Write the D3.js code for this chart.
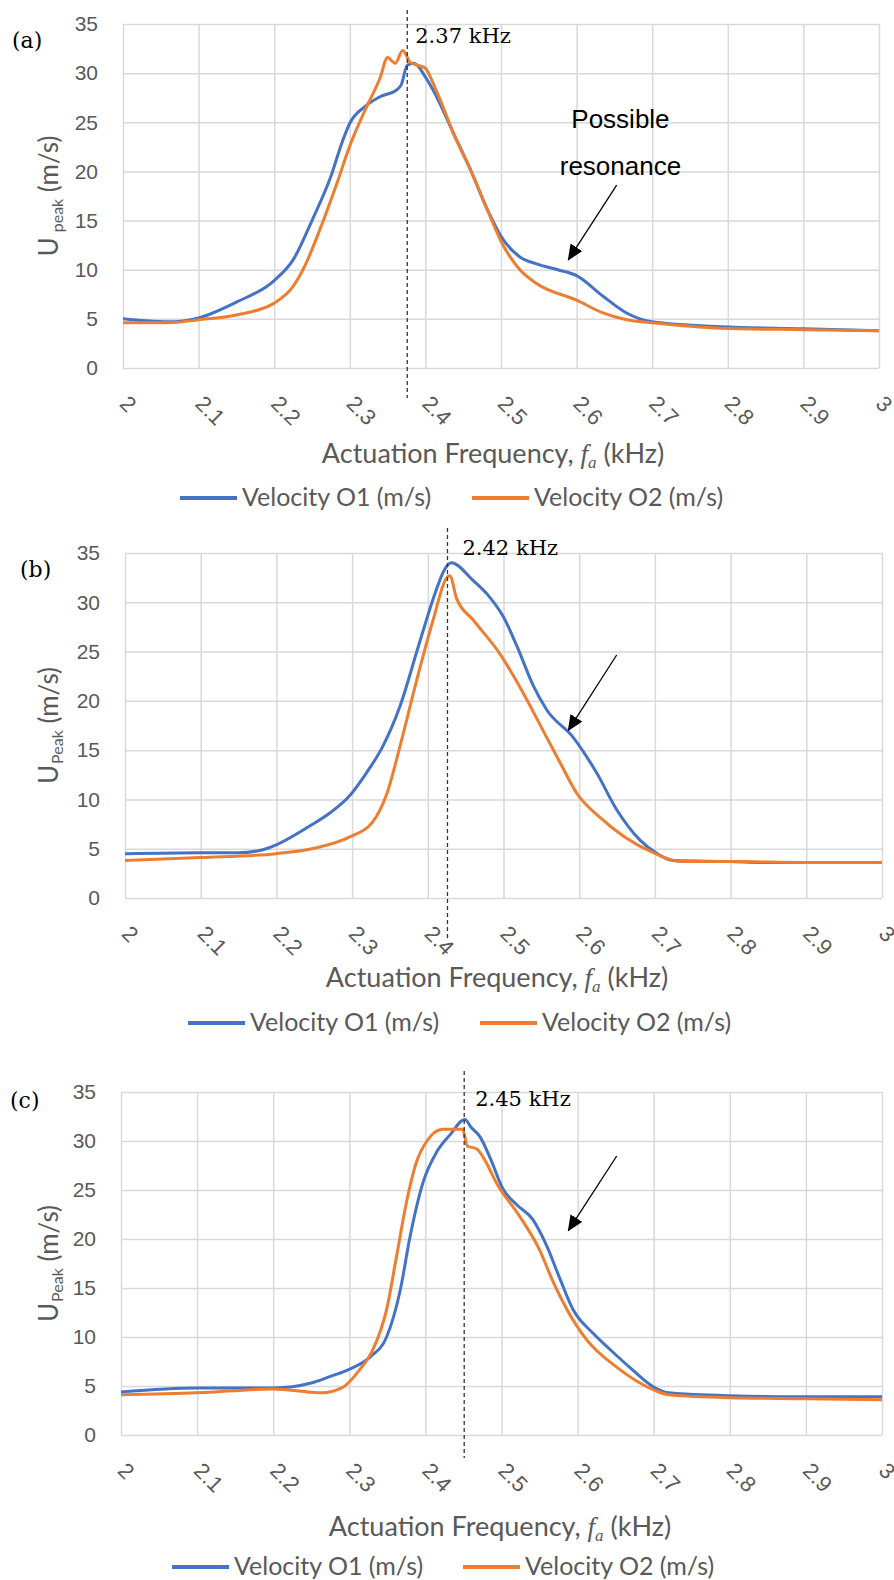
<!DOCTYPE html>
<html>
<head>
<meta charset="utf-8">
<script src="https://cdn.jsdelivr.net/npm/d3@7"></script>
<style>
  body { margin: 0; background: #fff; }
  svg { display: block; font-family: Lato, sans-serif; }
</style>
</head>
<body>
<svg id="fig" width="894" height="1580"></svg>
<script>
// axis ticks
var xTicks = [2, 2.1, 2.2, 2.3, 2.4, 2.5, 2.6, 2.7, 2.8, 2.9, 3];
var yTicks = [0, 5, 10, 15, 20, 25, 30, 35];
var seriesNames = ["Velocity O1 (m/s)", "Velocity O2 (m/s)"];
// where the dashed resonance lines sit, and their labels
var peakFreqs = [2.376, 2.426, 2.451];
var peakLabels = ["2.37 kHz", "2.42 kHz", "2.45 kHz"];

// (a) velocity at outlet 1 / outlet 2
var freqA1 = [2.00, 2.03, 2.06, 2.10, 2.15, 2.20, 2.225, 2.25, 2.275, 2.29, 2.30, 2.32, 2.34, 2.362, 2.368, 2.376, 2.385, 2.40, 2.41, 2.437, 2.46, 2.482, 2.50, 2.525, 2.547, 2.575, 2.60, 2.635, 2.666, 2.70, 2.79, 2.90, 3.00];
var velA1  = [5.0, 4.8, 4.7, 5.1, 6.7, 8.9, 11.0, 15.0, 19.5, 23.0, 24.9, 26.6, 27.6, 28.3, 28.8, 30.8, 31.0, 29.6, 28.3, 23.9, 20.1, 16.1, 13.4, 11.3, 10.6, 10.0, 9.4, 7.3, 5.6, 4.7, 4.2, 4.0, 3.8];
var freqA2 = [2.00, 2.06, 2.10, 2.15, 2.20, 2.225, 2.24, 2.26, 2.283, 2.30, 2.32, 2.34, 2.35, 2.36, 2.37, 2.38, 2.39, 2.40, 2.41, 2.42, 2.437, 2.46, 2.482, 2.50, 2.525, 2.547, 2.60, 2.635, 2.666, 2.70, 2.79, 2.90, 3.00];
var velA2  = [4.6, 4.6, 4.9, 5.4, 6.6, 8.3, 10.3, 14.0, 18.8, 22.6, 26.2, 29.5, 31.6, 31.0, 32.3, 31.1, 30.8, 30.5, 29.0, 27.2, 23.9, 20.1, 16.1, 12.9, 10.0, 8.6, 6.9, 5.6, 4.9, 4.6, 4.05, 3.9, 3.8];

// (b)
var freqB1 = [2.00, 2.10, 2.15, 2.182, 2.20, 2.246, 2.272, 2.297, 2.319, 2.34, 2.363, 2.389, 2.41, 2.422, 2.431, 2.46, 2.482, 2.50, 2.518, 2.539, 2.557, 2.592, 2.623, 2.65, 2.68, 2.703, 2.724, 2.80, 2.85, 3.00];
var velB1  = [4.5, 4.6, 4.6, 4.9, 5.4, 7.4, 8.7, 10.4, 12.7, 15.3, 19.4, 25.9, 31.0, 33.3, 34.0, 32.2, 30.5, 28.5, 25.5, 21.6, 19.1, 16.3, 12.7, 8.9, 5.9, 4.5, 3.8, 3.7, 3.6, 3.6];
var freqB2 = [2.00, 2.10, 2.20, 2.253, 2.297, 2.327, 2.346, 2.363, 2.385, 2.407, 2.425, 2.429, 2.438, 2.46, 2.495, 2.526, 2.557, 2.575, 2.597, 2.627, 2.66, 2.698, 2.733, 2.80, 2.90, 3.00];
var velB2  = [3.8, 4.1, 4.5, 5.1, 6.2, 7.7, 10.6, 15.3, 22.0, 28.2, 32.5, 32.7, 30.4, 28.2, 24.8, 20.8, 16.3, 13.7, 10.6, 8.2, 6.2, 4.6, 3.7, 3.7, 3.6, 3.6];

// (c)
var freqC1 = [2.00, 2.10, 2.20, 2.25, 2.276, 2.30, 2.328, 2.349, 2.367, 2.38, 2.397, 2.415, 2.432, 2.452, 2.46, 2.472, 2.486, 2.502, 2.52, 2.541, 2.56, 2.577, 2.594, 2.62, 2.643, 2.67, 2.70, 2.72, 2.80, 2.90, 3.00];
var velC1  = [4.4, 4.8, 4.8, 5.3, 6.0, 6.7, 8.0, 10.0, 14.8, 20.3, 25.8, 28.9, 30.6, 32.2, 31.4, 30.4, 28.1, 25.1, 23.5, 22.0, 19.2, 15.9, 12.8, 10.4, 8.7, 6.8, 4.9, 4.3, 4.0, 3.9, 3.9];
var freqC2 = [2.00, 2.10, 2.20, 2.245, 2.264, 2.29, 2.313, 2.331, 2.349, 2.362, 2.375, 2.388, 2.402, 2.423, 2.449, 2.455, 2.467, 2.498, 2.524, 2.55, 2.568, 2.586, 2.612, 2.65, 2.70, 2.72, 2.80, 2.90, 3.00];
var velC2  = [4.1, 4.3, 4.7, 4.4, 4.3, 4.8, 6.6, 8.7, 12.8, 18.2, 23.7, 27.8, 30.0, 31.2, 31.2, 29.5, 29.2, 25.1, 22.3, 18.9, 15.6, 12.8, 9.7, 7.0, 4.6, 4.1, 3.8, 3.7, 3.6];

// layout of the three stacked panels
var panels = [
  { tag: "(a)", sub: "peak", subGap: true, left: 123, right: 879, top: 24, bottom: 368,
    s1: [freqA1, velA1], s2: [freqA2, velA2], k: 0,
    dash: [10, 398], peakDx: 8, peakY: 43, tagX: 12, tagY: 48,
    titleX: 493, titleY: 463, legY: 498, legX: [180, 472],
    note: true, arrow: [[2.653, 18.6], [2.589, 11.0]] },
  { tag: "(b)", sub: "Peak", subGap: false, left: 125, right: 882, top: 553, bottom: 898,
    s1: [freqB1, velB1], s2: [freqB2, velB2], k: 1,
    dash: [528, 941], peakDx: 15, peakY: 555, tagX: 20, tagY: 577,
    titleX: 497, titleY: 987, legY: 1023, legX: [188, 480],
    note: false, arrow: [[2.6495, 24.65], [2.5856, 17.0]] },
  { tag: "(c)", sub: "Peak", subGap: false, left: 121, right: 882, top: 1092, bottom: 1435,
    s1: [freqC1, velC1], s2: [freqC2, velC2], k: 2,
    dash: [1071, 1458], peakDx: 11, peakY: 1106, tagX: 10, tagY: 1108,
    titleX: 500, titleY: 1536, legY: 1567, legX: [172, 463],
    note: false, arrow: [[2.6514, 28.47], [2.5878, 20.85]] }
];

var colors = ["#4472C4", "#ED7D31"];
var svg = d3.select("#fig");

// arrow head
svg.append("defs").append("marker")
  .attr("id", "head")
  .attr("markerUnits", "userSpaceOnUse")
  .attr("markerWidth", 16).attr("markerHeight", 14)
  .attr("refX", 15).attr("refY", 7)
  .attr("orient", "auto")
  .append("path").attr("d", "M0,0L16,7L0,14Z").attr("fill", "#000");

panels.forEach(function(p) {
  var x = d3.scaleLinear().domain([2, 3]).range([p.left, p.right]);
  var y = d3.scaleLinear().domain([0, 35]).range([p.bottom, p.top]);
  var g = svg.append("g");

  // horizontal grid + y labels
  var ya = g.append("g").attr("transform", "translate(" + p.left + ",0)")
    .call(d3.axisLeft(y).tickValues(yTicks).tickSize(-(p.right - p.left)).tickPadding(25));
  // vertical grid + rotated x labels
  var xa = g.append("g").attr("transform", "translate(0," + p.bottom + ")")
    .call(d3.axisBottom(x).tickValues(xTicks).tickSize(-(p.bottom - p.top)).tickFormat(d3.format("~g")));

  [ya, xa].forEach(function(a) {
    a.select(".domain").remove();
    a.selectAll(".tick line").attr("stroke", "#d9d9d9").attr("stroke-width", 1.5);
    a.selectAll(".tick text").attr("fill", "#595959").style("font-size", "21px");
  });
  xa.selectAll(".tick text")
    .style("font-size", "22px")
    .attr("y", 0).attr("dy", null)
    .attr("text-anchor", "start")
    .attr("transform", "translate(-5,37) rotate(45)");

  // curves
  var line = d3.line()
    .x(function(d) { return x(d[0]); })
    .y(function(d) { return y(d[1]); })
    .curve(d3.curveMonotoneX);
  [p.s1, p.s2].forEach(function(s, i) {
    var pts = s[0].map(function(f, k) { return [f, s[1][k]]; });
    g.append("path").datum(pts)
      .attr("d", line)
      .attr("fill", "none")
      .attr("stroke", colors[i])
      .attr("stroke-width", 3)
      .attr("stroke-linejoin", "round");
  });

  // dashed marker at resonance
  var px = x(peakFreqs[p.k]);
  g.append("line")
    .attr("x1", px).attr("x2", px)
    .attr("y1", p.dash[0]).attr("y2", p.dash[1])
    .attr("stroke", "#333").attr("stroke-width", 1.3)
    .attr("stroke-dasharray", "4,3");
  g.append("text")
    .attr("x", px + p.peakDx).attr("y", p.peakY)
    .attr("font-family", "DejaVu Serif").attr("font-size", 21)
    .text(peakLabels[p.k]);

  g.append("text")
    .attr("x", p.tagX).attr("y", p.tagY)
    .attr("font-family", "DejaVu Serif").attr("font-size", 22)
    .text(p.tag);

  // y title
  var cy = (p.top + p.bottom) / 2;
  var yt = g.append("text")
    .attr("transform", "translate(58," + cy + ") rotate(-90)")
    .attr("text-anchor", "middle")
    .attr("fill", "#595959").style("font-size", "26px");
  yt.append("tspan").text("U");
  yt.append("tspan").attr("dx", p.subGap ? 5 : 1).attr("dy", 5).style("font-size", "16px").text(p.sub);
  yt.append("tspan").attr("dy", -5).text(" (m/s)");

  // x title
  var xt = g.append("text")
    .attr("x", p.titleX).attr("y", p.titleY)
    .attr("text-anchor", "middle")
    .attr("fill", "#595959").style("font-size", "27px");
  xt.append("tspan").text("Actuation Frequency, ");
  xt.append("tspan").attr("font-family", "Liberation Serif").attr("font-style", "italic").text("f");
  xt.append("tspan").attr("font-family", "Liberation Serif").attr("font-style", "italic")
    .attr("dy", 5).style("font-size", "17px").text("a");
  xt.append("tspan").attr("dy", -5).text(" (kHz)");

  // legend
  seriesNames.forEach(function(name, i) {
    g.append("line")
      .attr("x1", p.legX[i]).attr("x2", p.legX[i] + 57)
      .attr("y1", p.legY).attr("y2", p.legY)
      .attr("stroke", colors[i]).attr("stroke-width", 4);
    g.append("text")
      .attr("x", p.legX[i] + 62).attr("y", p.legY + 8)
      .attr("fill", "#595959").style("font-size", "25px")
      .text(name);
  });

  // resonance arrow
  g.append("line")
    .attr("x1", x(p.arrow[0][0])).attr("y1", y(p.arrow[0][1]))
    .attr("x2", x(p.arrow[1][0])).attr("y2", y(p.arrow[1][1]))
    .attr("stroke", "#000").attr("stroke-width", 1.3)
    .attr("marker-end", "url(#head)");

  if (p.note) {
    var nt = g.append("text")
      .attr("text-anchor", "middle")
      .attr("font-family", "Liberation Sans").attr("font-size", 26);
    nt.append("tspan").attr("x", x(2.658)).attr("y", y(24.4)).text("Possible");
    nt.append("tspan").attr("x", x(2.658)).attr("y", y(19.6)).text("resonance");
  }
});
</script>
</body>
</html>
